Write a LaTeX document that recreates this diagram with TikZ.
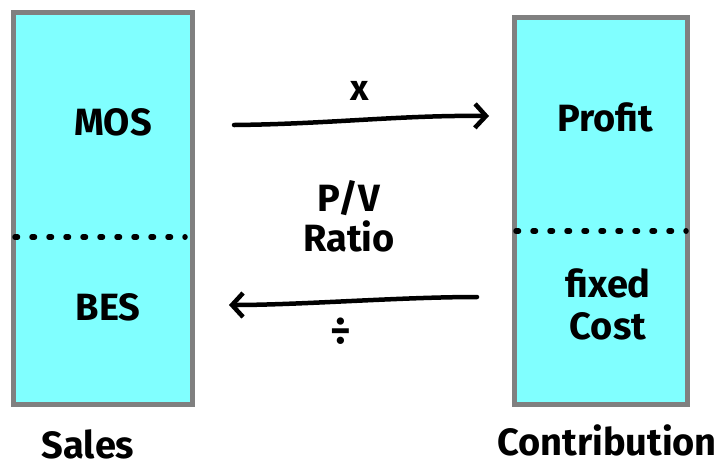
\documentclass[tikz,border=0pt]{standalone}
\usepackage{fontspec}
\setmainfont{Fira Sans}
\usetikzlibrary{arrows.meta}
\definecolor{boxfill}{HTML}{80FFFF}
\definecolor{boxline}{HTML}{808080}
\tikzset{
  col/.style={draw=boxline, fill=boxfill, line width=5pt, inner sep=0pt},
  lbl/.style={font=\fontsize{38}{40}\selectfont\bfseries, inner sep=0pt, align=center},
  captext/.style={font=\fontsize{38}{40}\selectfont\bfseries, inner sep=0pt},
  sym/.style={font=\fontsize{36}{40}\selectfont\bfseries, inner sep=0pt},
  divider/.style={line width=5.5pt, line cap=round, dash pattern=on 2.5pt off 14.5pt},
  conn/.style={line width=4.5pt, line cap=round, -{Straight Barb[length=11pt,width=24pt,line width=4.5pt]}},
}
\begin{document}
\begin{tikzpicture}[x=1pt,y=-1pt]
\useasboundingbox (0,0) rectangle (727,467);
% columns
\node[col, minimum width=179pt, minimum height=392pt] (L) at (103,208.5) {};
\node[col, minimum width=173pt, minimum height=387pt] (R) at (601,211) {};
% dividers
\coordinate (ld1) at (15,237);
\coordinate (ld2) at (185,237);
\coordinate (rd1) at (516,231);
\coordinate (rd2) at (686,231);
\draw[divider] (ld1) -- (ld2);
\draw[divider] (rd1) -- (rd2);
% labels in columns
\node[lbl] (mos) at (113,122) {MOS};
\node[lbl] (bes) at (108,307) {BES};
\node[lbl] (profit) at (605,117) {Profit};
\node[lbl, font=\fontsize{38}{42}\selectfont\bfseries] (fc) at (608,304) {fixed\\Cost};
% captions
\node[captext] (sales) at (88,444) {Sales};
\node[captext] (contrib) at (607,440) {Contribution};
% arrows
\coordinate (a1) at (234,125);
\coordinate (a2) at (489,116);
\coordinate (b1) at (477,297);
\coordinate (b2) at (229,305);
\draw[conn] (a1) .. controls (330,124) and (400,115) .. (a2);
\draw[conn] (b1) .. controls (400,297) and (300,305) .. (b2);
% middle texts
\node[sym] (times) at (360,91) {x};
\node[lbl] (pv) at (349,216) {P/V\\Ratio};
\node[sym, font=\fontsize{40}{40}\selectfont\bfseries] (div) at (341,331) {÷};
\end{tikzpicture}
\end{document}
